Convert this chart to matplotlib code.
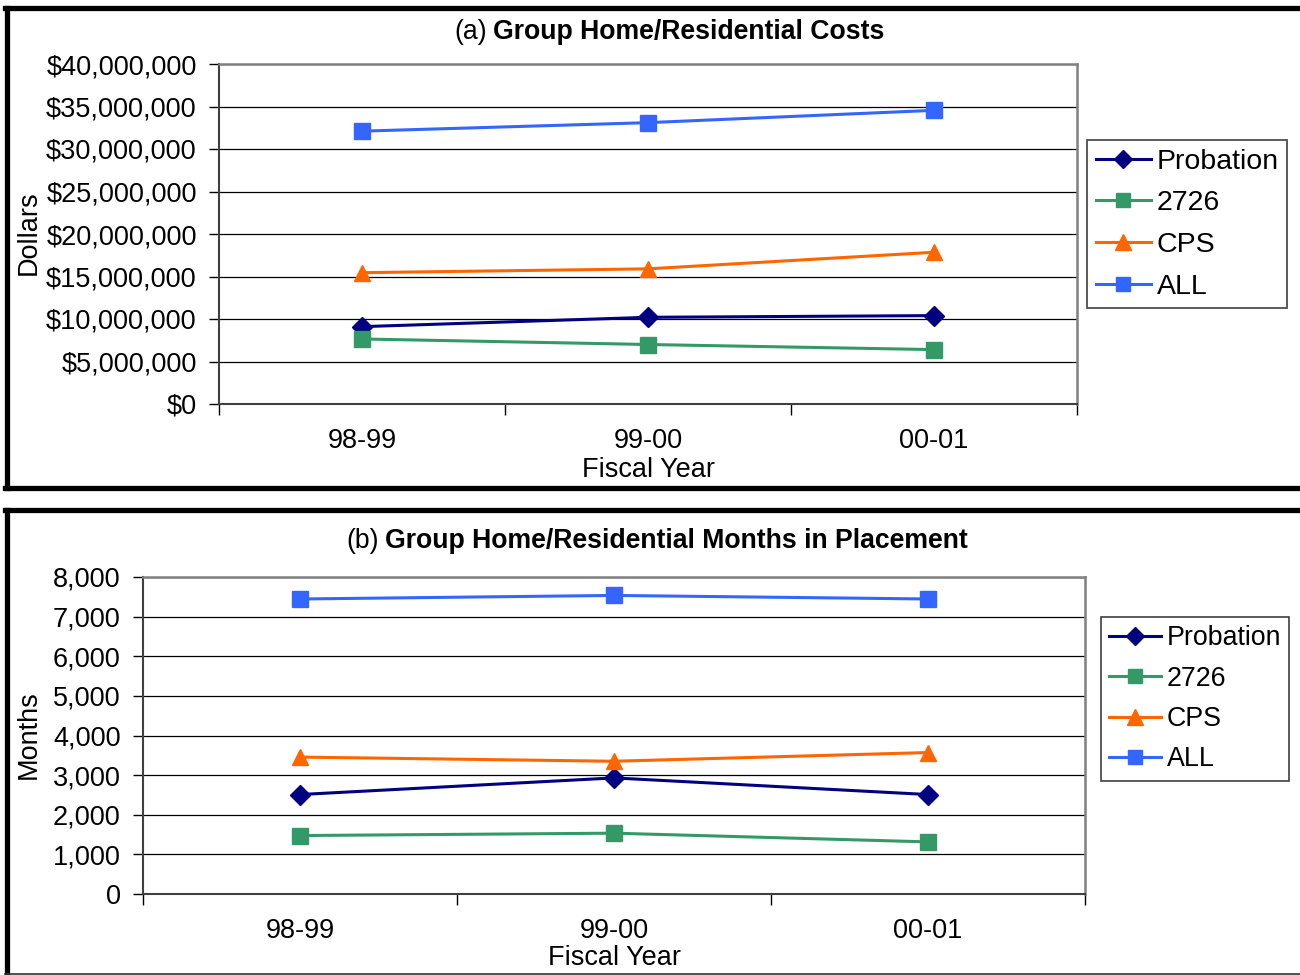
import matplotlib.pyplot as plt
import matplotlib.ticker as mticker
from matplotlib.lines import Line2D

plt.rcParams['font.family'] = ['Liberation Sans', 'DejaVu Sans']

years = ["98-99", "99-00", "00-01"]
series_names = ["Probation", "2726", "CPS", "ALL"]

cost_probation = [9_100_000, 10_200_000, 10_400_000]
cost_2726 = [7_650_000, 7_000_000, 6_400_000]
cost_cps = [15_450_000, 15_900_000, 17_850_000]
cost_all = [32_100_000, 33_100_000, 34_550_000]

months_probation = [2510, 2930, 2510]
months_2726 = [1475, 1535, 1315]
months_cps = [3455, 3350, 3570]
months_all = [7445, 7535, 7445]

colors = ["#000080", "#339966", "#FF6600", "#3366FF"]
markers = ["D", "s", "^", "s"]
msizes = [10, 11, 12, 11]

FS = 19.5
W, H = 1300, 975


def fx(px):
    return px / W


def fy(py):
    return 1 - py / H


def draw_panel(ax, data, ymax, ystep, fmt):
    x = [0.5, 1.5, 2.5]
    for vals, c, m, ms in zip(data, colors, markers, msizes):
        ax.plot(x, vals, color=c, lw=2.2, marker=m, ms=ms, mec=c, mfc=c,
                clip_on=False, zorder=5)
    ax.set_xlim(0, 3)
    ax.set_ylim(0, ymax)
    ax.set_yticks(range(0, ymax + 1, ystep))
    ax.yaxis.set_major_formatter(mticker.FuncFormatter(fmt))
    ax.set_xticks([0, 1, 2, 3])
    ax.set_xticklabels([])
    ax.set_xticks(x, minor=True)
    ax.set_xticklabels(years, minor=True)
    ax.tick_params(axis="x", which="major", direction="out", length=8,
                   width=1, color="black")
    ax.tick_params(axis="x", which="minor", length=0, pad=17, labelsize=FS)
    ax.tick_params(axis="y", direction="out", length=7, width=1,
                   color="black", pad=9, labelsize=FS)
    ax.grid(axis="y", color="black", lw=0.9)
    ax.set_axisbelow(True)
    for s in ["top", "right"]:
        ax.spines[s].set_color("#808080")
        ax.spines[s].set_linewidth(1.8)
    for s in ["left", "bottom"]:
        ax.spines[s].set_color("#404040")
        ax.spines[s].set_linewidth(1.5)


fig = plt.figure(figsize=(13, 9.75), dpi=100)

# panel frames
for top, bot in [(8, 488), (510, 1200)]:
    fig.add_artist(Line2D([fx(7), fx(7)], [fy(top), fy(min(bot, 975))],
                          transform=fig.transFigure, color="black", lw=3.8))
    fig.add_artist(Line2D([fx(5), fx(1300)], [fy(top), fy(top)],
                          transform=fig.transFigure, color="black", lw=3.8))
fig.add_artist(Line2D([fx(5), fx(1300)], [fy(488), fy(488)],
                      transform=fig.transFigure, color="black", lw=3.8))
fig.add_artist(Line2D([fx(5), fx(1300)], [fy(974), fy(974)],
                      transform=fig.transFigure, color="#333333", lw=1.2))

ax1 = fig.add_axes([fx(219), fy(404), fx(1077 - 219), (404 - 64) / H])
draw_panel(ax1, [cost_probation, cost_2726, cost_cps, cost_all],
           40_000_000, 5_000_000, lambda v, p: "${:,.0f}".format(v))

ax2 = fig.add_axes([fx(143), fy(894), fx(1085 - 143), (894 - 577) / H])
draw_panel(ax2, [months_probation, months_2726, months_cps, months_all],
           8000, 1000, lambda v, p: "{:,.0f}".format(v))

# titles
TFS = 19.2
fig.text(fx(487), fy(32), "(a)", ha="right", va="center", fontsize=TFS)
fig.text(fx(493), fy(32), "Group Home/Residential Costs", ha="left",
         va="center", fontsize=TFS, fontweight="bold")
fig.text(fx(379), fy(541), "(b)", ha="right", va="center", fontsize=TFS)
fig.text(fx(385), fy(541), "Group Home/Residential Months in Placement",
         ha="left", va="center", fontsize=TFS, fontweight="bold")

# axis labels
fig.text(fx(29), fy(233), "Dollars", rotation=90, ha="center", va="center",
         fontsize=FS)
fig.text(fx(648), fy(470), "Fiscal Year", ha="center", va="center",
         fontsize=FS)
fig.text(fx(29), fy(735), "Months", rotation=90, ha="center", va="center",
         fontsize=FS)
fig.text(fx(614), fy(958), "Fiscal Year", ha="center", va="center",
         fontsize=FS)

# legends
handles = [Line2D([], [], color=c, lw=2.2, marker=m, ms=ms - 1, mec=c, mfc=c)
           for c, m, ms in zip(colors, markers, msizes)]
for (lx, ly, lfs, lsp) in [(1087, 140, 20.5, 0.55), (1101, 617, 19.3, 0.54)]:
    leg = fig.legend(handles, series_names, loc="upper left",
                     bbox_to_anchor=(fx(lx), fy(ly)),
                     bbox_transform=fig.transFigure, fontsize=lfs,
                     frameon=True, fancybox=False, handlelength=1.95,
                     handletextpad=0.2, labelspacing=lsp, borderpad=0.3,
                     borderaxespad=0, framealpha=1)
    leg.get_frame().set_edgecolor("#404040")
    leg.get_frame().set_linewidth(1.2)

fig.savefig("out.png", dpi=100)
